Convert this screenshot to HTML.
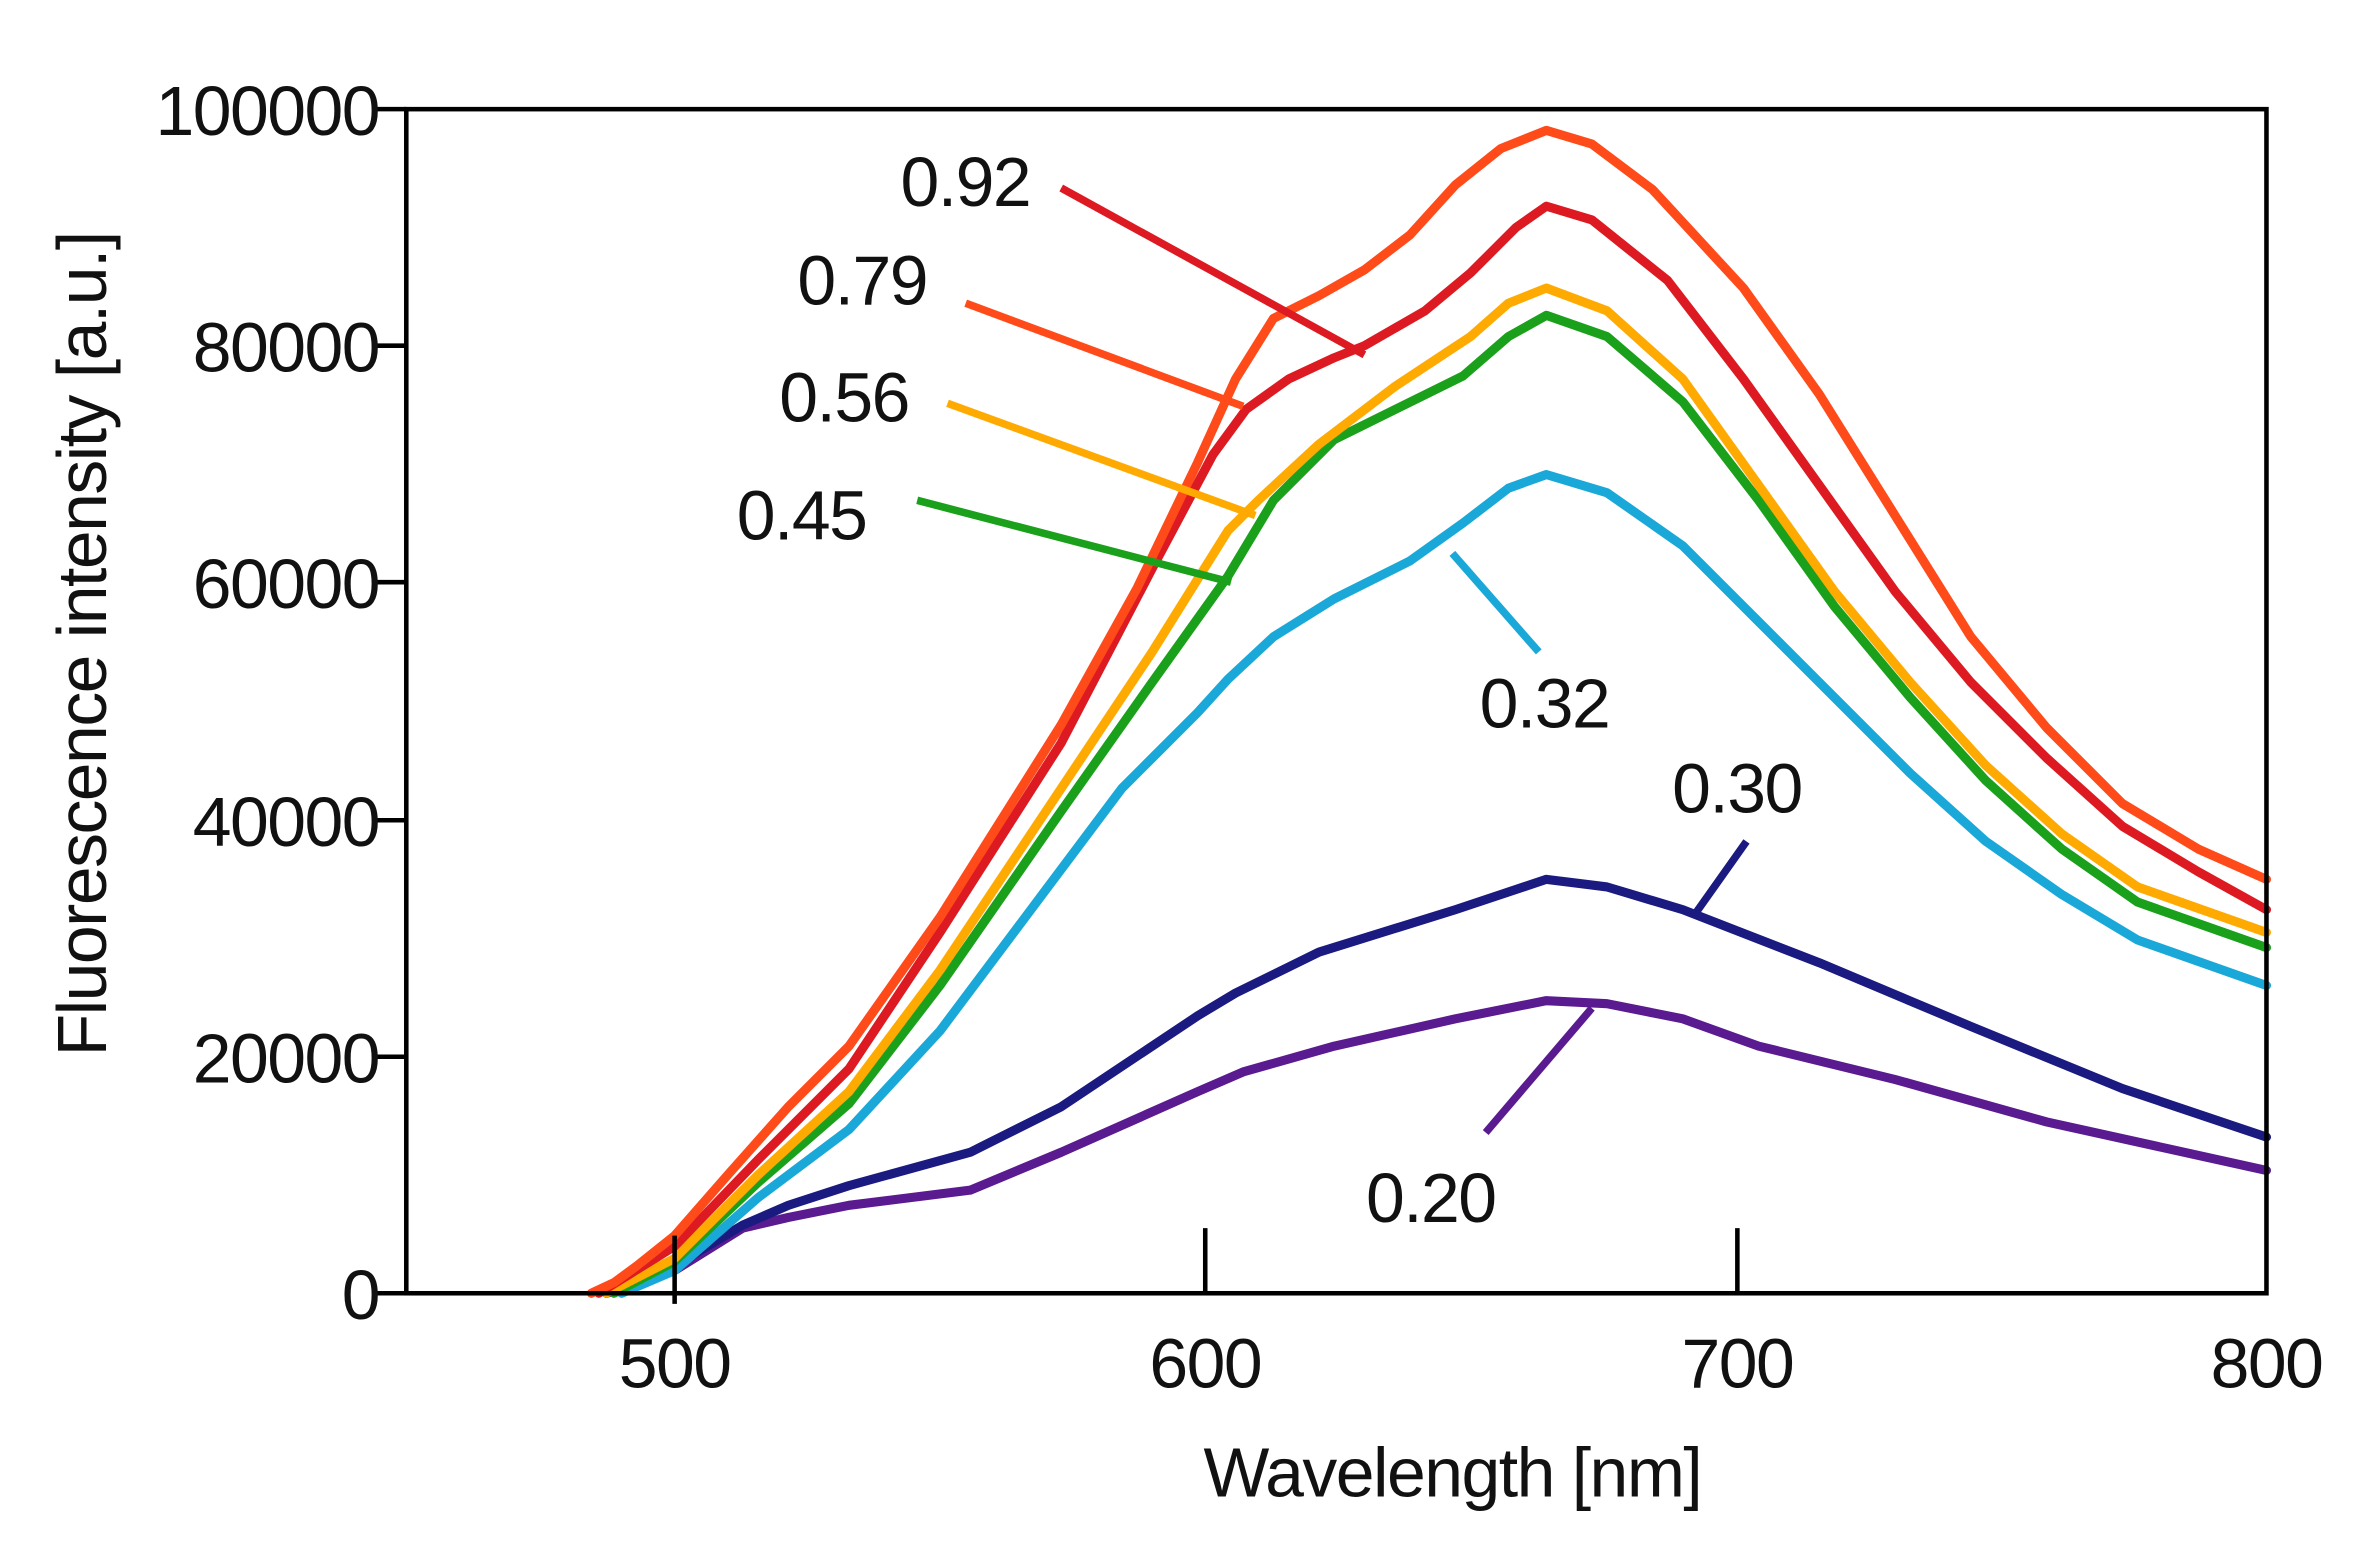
<!DOCTYPE html>
<html><head><style>html,body{margin:0;padding:0;background:#fff}svg{display:block}</style></head>
<body>
<svg width="2365" height="1551" viewBox="0 0 1560 1023" preserveAspectRatio="none" xmlns="http://www.w3.org/2000/svg" font-family="Liberation Sans, sans-serif">
<rect width="1560" height="1023" fill="#fff"/>
<g fill="none" stroke-width="6" stroke-linejoin="round" stroke-linecap="round">
<path stroke="#5a1a90" d="M400,853 L445,838 L490,810 L520,803 L560,795 L640,785 L700,760 L790,720 L820,707 L880,690 L960,672 L1020,660 L1060,662 L1110,672 L1160,690 L1250,712 L1350,740 L1495,772"/>
<path stroke="#1a1a80" d="M400,853 L420,848 L445,835 L490,808 L520,795 L560,782 L640,760 L700,730 L790,670 L815,655 L870,628 L960,600 L1020,580 L1060,585 L1110,600 L1200,635 L1300,677 L1400,718 L1495,750"/>
<path stroke="#1aa8d8" d="M410,853 L445,838 L500,790 L560,745 L620,680 L680,600 L740,520 L790,470 L810,448 L840,420 L880,395 L930,370 L965,345 L995,322 L1020,313 L1060,325 L1110,360 L1160,410 L1210,460 L1260,510 L1310,555 L1360,590 L1410,620 L1495,650"/>
<path stroke="#1aa01a" d="M405,853 L445,832 L500,780 L560,728 L620,650 L700,535 L760,450 L810,380 L840,330 L880,290 L965,248 L995,222 L1020,208 L1060,222 L1110,265 L1160,330 L1210,400 L1260,460 L1310,515 L1360,560 L1410,595 L1495,625"/>
<path stroke="#ffaa00" d="M400,853 L445,830 L500,775 L560,720 L620,640 L700,520 L760,430 L810,350 L830,330 L870,293 L920,255 L970,222 L995,200 L1020,190 L1060,205 L1110,250 L1160,320 L1210,390 L1260,450 L1310,505 L1360,550 L1410,585 L1495,615"/>
<path stroke="#dd1a22" d="M395,853 L445,822 L500,765 L560,705 L620,615 L700,490 L760,375 L800,300 L822,270 L850,250 L880,236 L900,228 L940,205 L970,180 L1000,150 L1020,136 L1050,145 L1100,185 L1150,250 L1200,320 L1250,390 L1300,450 L1350,500 L1400,545 L1450,575 L1495,600"/>
<path stroke="#ff4a1a" d="M390,853 L405,846 L420,835 L445,815 L480,775 L520,730 L560,690 L620,605 L700,478 L750,388 L790,305 L815,250 L840,210 L870,195 L900,178 L930,155 L960,122 L990,98 L1020,86 L1050,95 L1090,125 L1150,190 L1200,260 L1250,340 L1300,420 L1350,480 L1400,530 L1450,560 L1495,580"/>
<g stroke-width="5" stroke-linecap="butt">
<line x1="700" y1="124" x2="900" y2="234" stroke="#dd1a22"/>
<line x1="637" y1="200" x2="820" y2="268" stroke="#ff4a1a"/>
<line x1="625" y1="266" x2="828" y2="340" stroke="#ffaa00"/>
<line x1="605" y1="330" x2="812" y2="384" stroke="#1aa01a"/>
<line x1="958" y1="365" x2="1015" y2="430" stroke="#1aa8d8"/>
<line x1="1152" y1="555" x2="1118" y2="603" stroke="#1a1a80"/>
<line x1="1050" y1="665" x2="980" y2="747" stroke="#5a1a90"/>
</g>
</g>
<g stroke="#000" stroke-width="3" fill="none">
<rect x="268" y="72" width="1227" height="781"/>
<line x1="248" y1="72" x2="268" y2="72"/>
<line x1="248" y1="228" x2="268" y2="228"/>
<line x1="248" y1="384" x2="268" y2="384"/>
<line x1="248" y1="541" x2="268" y2="541"/>
<line x1="248" y1="697" x2="268" y2="697"/>
<line x1="248" y1="853" x2="268" y2="853"/>
<line x1="445" y1="815" x2="445" y2="860"/>
<line x1="795" y1="810" x2="795" y2="853"/>
<line x1="1146" y1="810" x2="1146" y2="853"/>
</g>
<g font-size="46" fill="#111" text-anchor="end" letter-spacing="-1">
<text x="250" y="89">100000</text>
<text x="250" y="245">80000</text>
<text x="250" y="401">60000</text>
<text x="250" y="558">40000</text>
<text x="250" y="714">20000</text>
<text x="250" y="870">0</text>
</g>
<g font-size="46" fill="#111" text-anchor="middle" letter-spacing="-1">
<text x="445" y="915">500</text>
<text x="795" y="915">600</text>
<text x="1146" y="915">700</text>
<text x="1495" y="915">800</text>
<text x="958" y="987">Wavelength [nm]</text>
<text transform="translate(70,425) rotate(-90)">Fluorescence intensity [a.u.]</text>
</g>
<g font-size="46" fill="#111" letter-spacing="-1">
<text x="594" y="136">0.92</text>
<text x="526" y="201">0.79</text>
<text x="514" y="278">0.56</text>
<text x="486" y="356">0.45</text>
<text x="976" y="480">0.32</text>
<text x="1103" y="536">0.30</text>
<text x="901" y="806">0.20</text>
</g>
</svg>
</body></html>
